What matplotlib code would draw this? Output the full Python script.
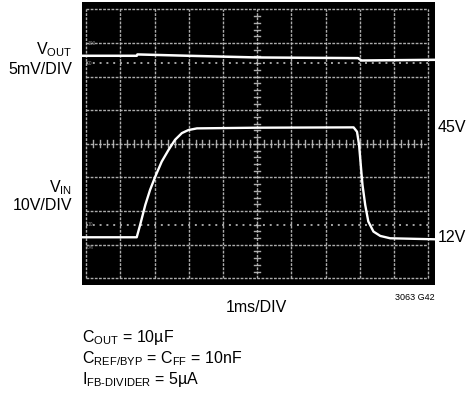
import matplotlib
matplotlib.use("Agg")
from matplotlib import pyplot as plt
import numpy as np

plt.rcParams['font.family'] = ['Liberation Sans', 'DejaVu Sans']
plt.rcParams['mathtext.fontset'] = 'custom'
plt.rcParams['mathtext.rm'] = 'Liberation Sans'

# time in ms (1ms/DIV), VIN in volts (10V/DIV)
t_vin = [-0.12, 1.48, 1.58, 1.73, 1.87, 2.02, 2.21, 2.41, 2.60, 2.80, 2.99, 3.24, 5.0,
         7.82, 7.92, 7.98, 8.03, 8.08, 8.16, 8.25, 8.40, 8.60, 8.89, 10.2]
vin = [12.2, 12.2, 15.9, 21.8, 26.3, 30.2, 34.7, 38.2, 41.2, 43.2, 44.1, 44.6, 44.8,
       44.9, 43.6, 39.7, 33.7, 27.8, 21.8, 16.9, 13.9, 12.6, 11.9, 11.6]

# VOUT trace in screen divisions (5mV/DIV)
t_vout = [-0.12, 1.48, 1.50, 3.0, 5.0, 7.95, 8.05, 10.2]
vout = [6.62, 6.62, 6.66, 6.62, 6.57, 6.55, 6.48, 6.50]

W, H = 469, 394
fig = plt.figure(figsize=(W / 100, H / 100), dpi=100)
ax = fig.add_axes([82 / W, 1 - 285 / H, 353 / W, 283 / H])
ax.set_facecolor('black')
ax.set_xlim(-0.12, 10.2)
ax.set_ylim(-0.2, 8.22)
for s in ax.spines.values():
    s.set_visible(False)
ax.set_xticks([])
ax.set_yticks([])

gc = '#c0c0c0'
# graticule
for x in range(11):
    ax.plot([x, x], [0, 8], color=gc, lw=1.0, ls=(0, (2, 1)), alpha=0.9)
for y in range(9):
    ax.plot([0, 10], [y, y], color=gc, lw=1.0, ls=(0, (2, 1)), alpha=0.9)
# 10% / 90% dotted lines
for y in [1.6, 6.4]:
    ax.plot([0, 10], [y, y], color=gc, lw=1.4, ls=(0, (1, 2.5)), alpha=0.85)
# center ticks
for x in np.arange(0.2, 10, 0.2):
    ax.plot([x, x], [3.9, 4.1], color=gc, lw=1.0, alpha=0.9)
for y in np.arange(0.2, 8, 0.2):
    ax.plot([4.91, 5.09], [y, y], color=gc, lw=1.0, alpha=0.9)
# small % labels
for txt, y, va in [('100', 7.0, 'center'), ('90', 6.4, 'center'), ('10', 1.6, 'center'), ('0%', 1.0, 'top')]:
    ax.text(0.03, y, txt, color='#8a8a8a', fontsize=3.5, va=va, ha='left')

# traces
ax.plot(np.array(t_vin), np.array(vin) / 10, color='white', lw=1.7, solid_capstyle='round')
ax.plot(t_vout, vout, color='white', lw=1.8)

fs = 11.5
def ft(x, y, s, **kw):
    fig.text(x / W, 1 - y / H, s, fontsize=kw.pop('size', fs), **kw)

ft(72, 50, r'V$_{\mathregular{OUT}}$', ha='right', va='center')
ft(72, 70, '5mV/DIV', ha='right', va='center')
ft(72, 188, r'V$_{\mathregular{IN}}$', ha='right', va='center')
ft(72, 206, '10V/DIV', ha='right', va='center')
ft(438, 128, '45V', ha='left', va='center')
ft(438, 238, '12V', ha='left', va='center')
ft(435, 297, '3063 G42', ha='right', va='center', size=6.5)
ft(256, 308, '1ms/DIV', ha='center', va='center')
ft(82, 342, r'C$_{\mathregular{OUT}}$ = 10µF', ha='left', va='baseline')
ft(82, 363, r'C$_{\mathregular{REF/BYP}}$ = C$_{\mathregular{FF}}$ = 10nF', ha='left', va='baseline')
ft(82, 384, r'I$_{\mathregular{FB\text{-}DIVIDER}}$ = 5µA', ha='left', va='baseline')

fig.savefig('out.png', dpi=100, facecolor='white')
